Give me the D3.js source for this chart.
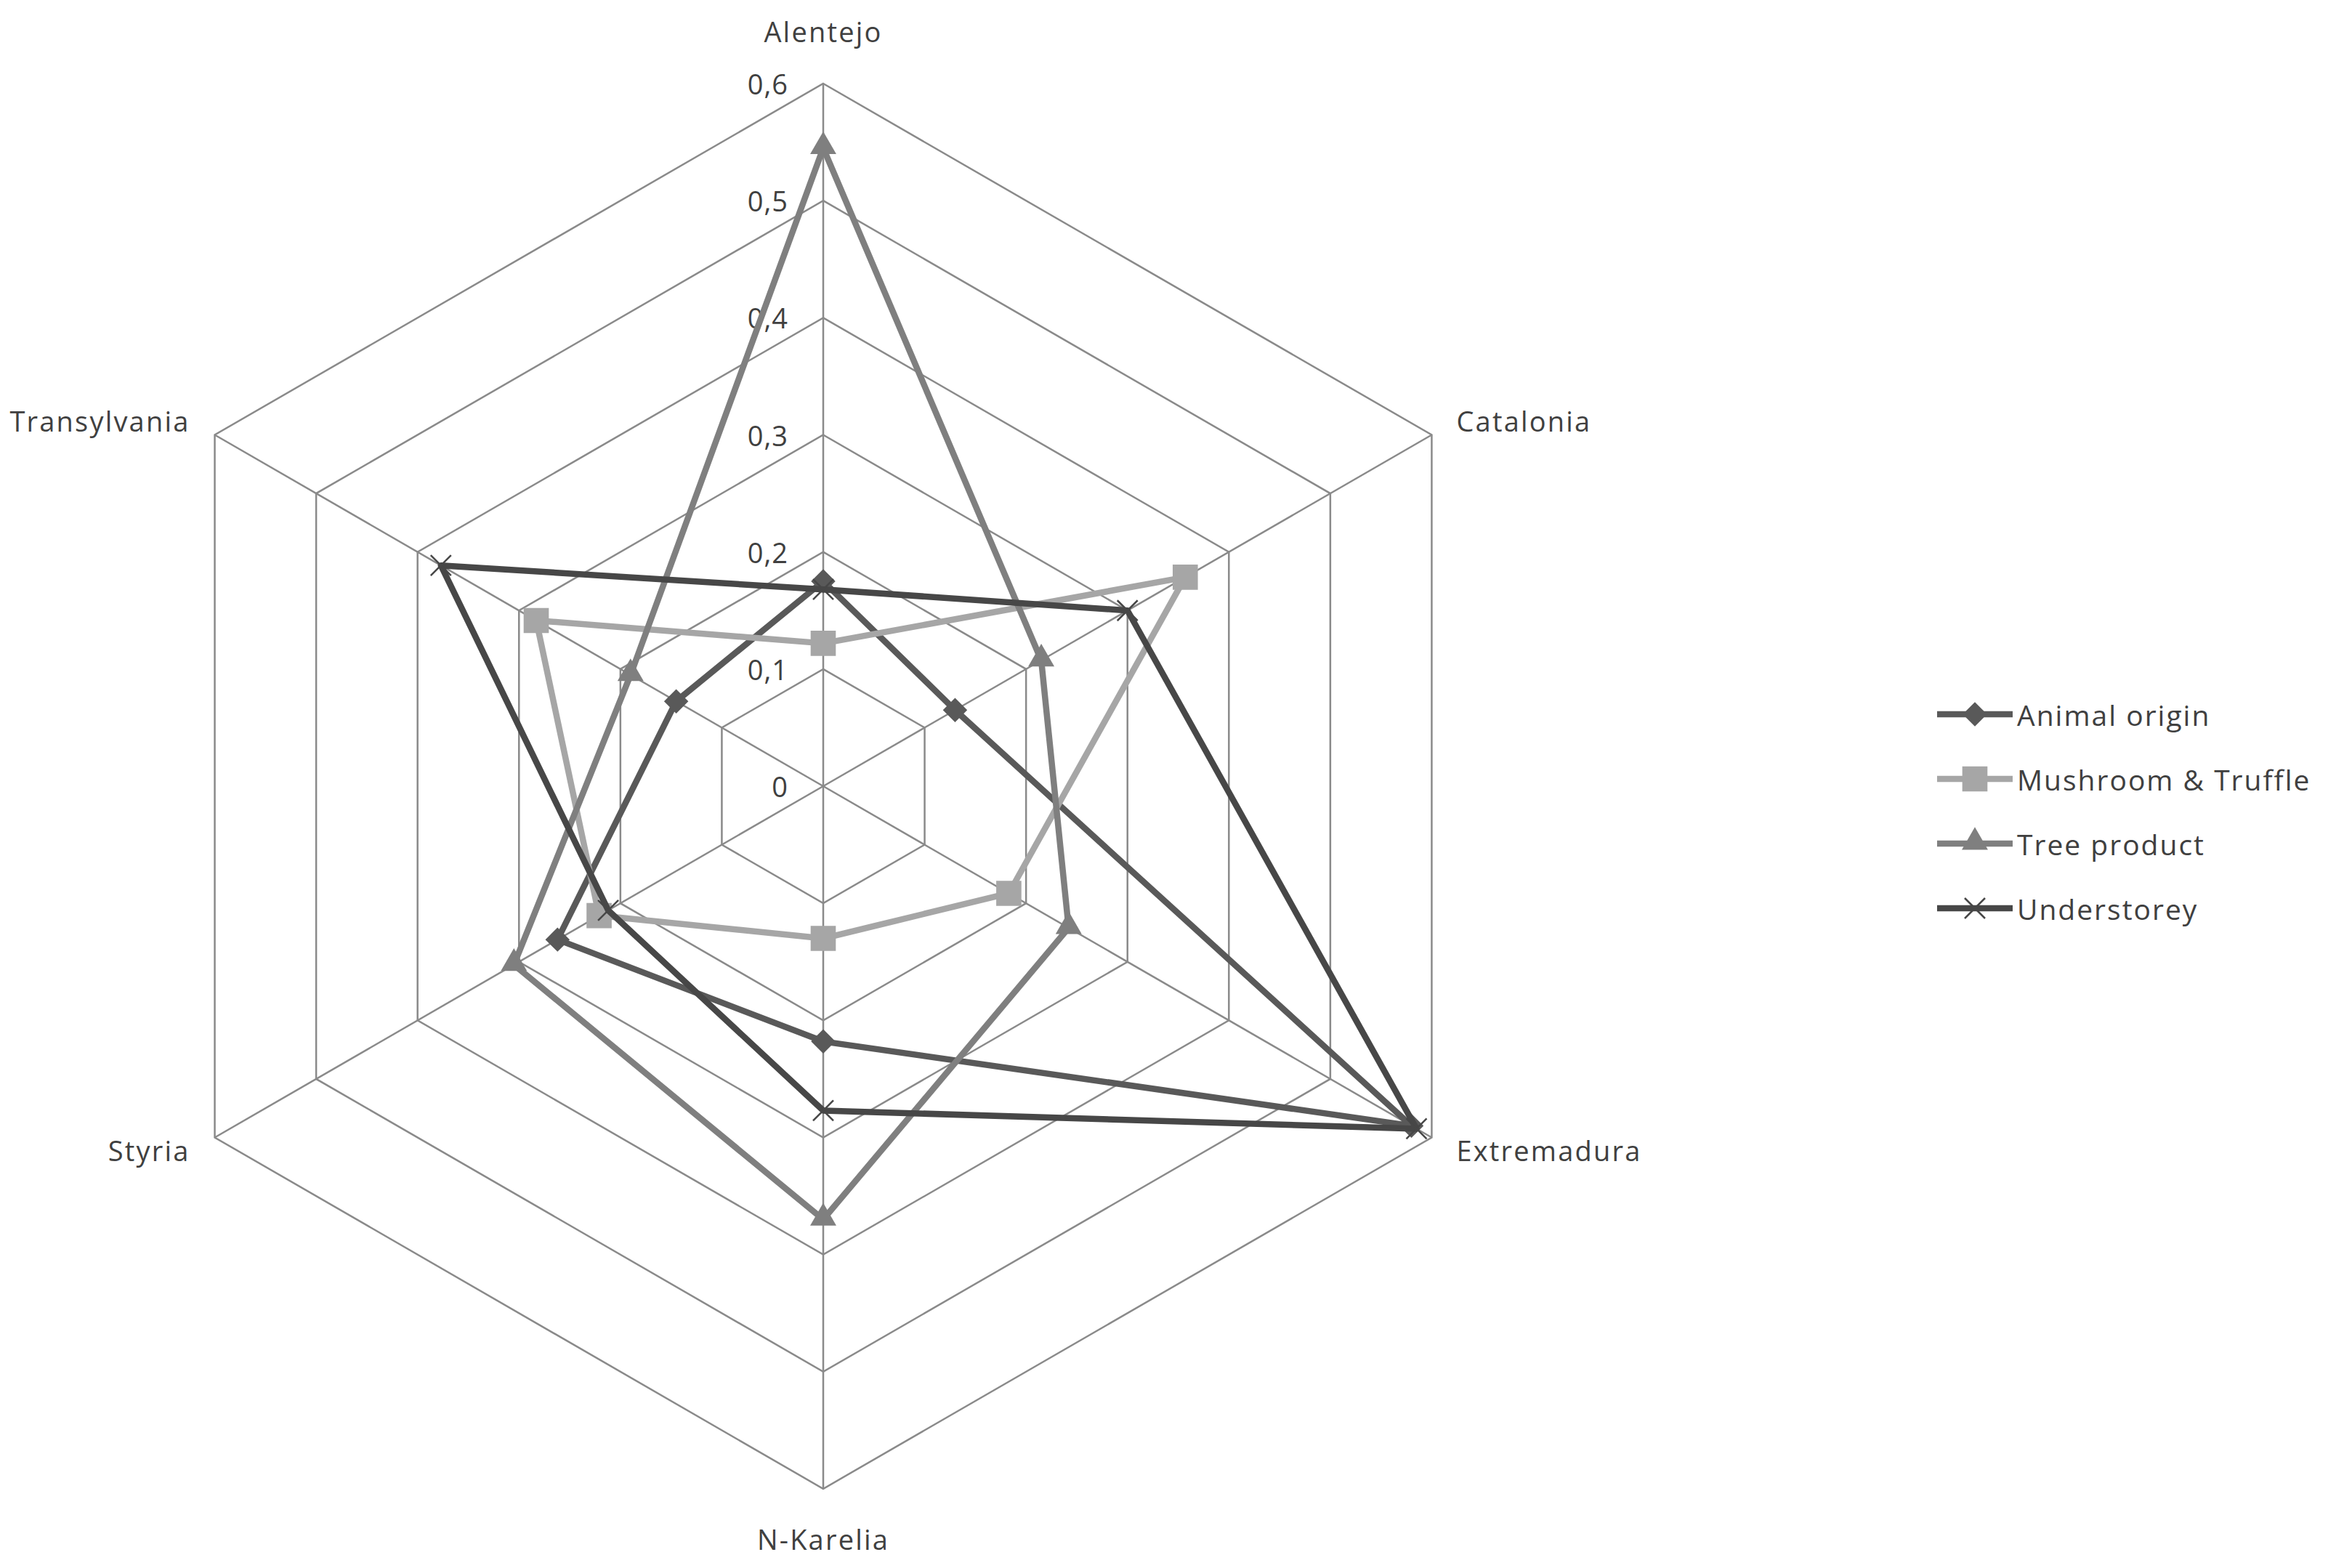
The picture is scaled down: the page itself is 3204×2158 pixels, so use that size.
<!DOCTYPE html>
<html>
<head>
<meta charset="utf-8">
<script src="https://cdn.jsdelivr.net/npm/d3@7"></script>
<style>
  body { margin: 0; background: #fff; }
  text { font-family: "Open Sans", sans-serif; fill: #404040; }
</style>
</head>
<body>
<svg id="radar"></svg>
<script>
// Regions around the radar, clockwise from the top
var regions = ["Alentejo", "Catalonia", "Extremadura", "N-Karelia", "Styria", "Transylvania"];

// Series values (same order as regions)
var animalOrigin = [0.175, 0.13, 0.58, 0.218, 0.262, 0.145];
var mushroomTruffle = [0.122, 0.357, 0.183, 0.13, 0.221, 0.283];
var treeProduct = [0.545, 0.215, 0.242, 0.37, 0.305, 0.19];
var understorey = [0.168, 0.30, 0.585, 0.277, 0.212, 0.377];

var seriesNames = ["Animal origin", "Mushroom & Truffle", "Tree product", "Understorey"];
var tickValues = [0, 0.1, 0.2, 0.3, 0.4, 0.5, 0.6];
var tickLabels = ["0", "0,1", "0,2", "0,3", "0,4", "0,5", "0,6"];

var width = 3204, height = 2158;
var cx = 1133, cy = 1082, radius = 967;

var svg = d3.select("#radar")
  .attr("width", width)
  .attr("height", height);

svg.append("rect").attr("width", width).attr("height", height).attr("fill", "#fff");

// scales
var r = d3.scaleLinear().domain([0, 0.6]).range([0, radius]);
var angle = d3.scaleLinear().domain([0, regions.length]).range([0, 2 * Math.PI]);

function pt(i, v) {
  var a = angle(i);
  return [cx + r(v) * Math.sin(a), cy - r(v) * Math.cos(a)];
}

var g = svg.append("g");

// hexagon grid rings
tickValues.filter(function(t) { return t > 0; }).forEach(function(t) {
  g.append("path")
    .attr("d", d3.line().curve(d3.curveLinearClosed)(regions.map(function(d, i) { return pt(i, t); })))
    .attr("fill", "none")
    .attr("stroke", "#8a8a8a")
    .attr("stroke-width", 2.5);
});

// spokes
regions.forEach(function(d, i) {
  var p = pt(i, 0.6);
  g.append("line")
    .attr("x1", cx).attr("y1", cy)
    .attr("x2", p[0]).attr("y2", p[1])
    .attr("stroke", "#8a8a8a")
    .attr("stroke-width", 2.5);
});

// tick labels along the top spoke
g.selectAll(".tick")
  .data(tickValues)
  .enter().append("text")
  .attr("x", cx - 48)
  .attr("y", function(d) { return cy - r(d); })
  .attr("text-anchor", "end")
  .attr("dominant-baseline", "central")
  .style("font-size", "38px")
  .style("letter-spacing", "1px")
  .text(function(d, i) { return tickLabels[i]; });

// region labels
g.selectAll(".region")
  .data(regions)
  .enter().append("text")
  .each(function(d, i) {
    var p = pt(i, 0.6);
    var s = Math.sin(angle(i)), c = Math.cos(angle(i));
    var anchor = s > 0.1 ? "start" : (s < -0.1 ? "end" : "middle");
    var dx = s > 0.1 ? 34 : (s < -0.1 ? -34 : 0);
    var dy;
    if (Math.abs(s) < 0.1) dy = c > 0 ? -72 : 69;
    else dy = c > 0 ? -20 : 17;
    d3.select(this)
      .attr("x", p[0] + dx)
      .attr("y", p[1] + dy)
      .attr("text-anchor", anchor)
      .attr("dominant-baseline", "central")
      .style("font-size", "38px")
      .style("letter-spacing", "2.2px")
      .text(d);
  });

// marker shapes
function xPath(s) {
  return "M" + (-s) + "," + (-s) + "L" + s + "," + s + "M" + (-s) + "," + s + "L" + s + "," + (-s);
}

var styles = [
  { color: "#595959", marker: "diamond" },
  { color: "#a6a6a6", marker: "square" },
  { color: "#7f7f7f", marker: "triangle" },
  { color: "#474747", marker: "x" }
];

function drawMarker(sel, type, color) {
  if (type === "diamond") {
    sel.append("path")
      .attr("d", d3.symbol().type(d3.symbolSquare).size(560)())
      .attr("transform", "rotate(45)")
      .attr("fill", color);
  } else if (type === "square") {
    sel.append("path")
      .attr("d", d3.symbol().type(d3.symbolSquare).size(1200)())
      .attr("fill", color);
  } else if (type === "triangle") {
    sel.append("path")
      .attr("d", d3.symbol().type(d3.symbolTriangle).size(560)())
      .attr("transform", "translate(0,-2)")
      .attr("fill", color);
  } else {
    sel.append("path")
      .attr("d", xPath(14))
      .attr("fill", "none")
      .attr("stroke", color)
      .attr("stroke-width", 2.5);
  }
}

var allSeries = [animalOrigin, mushroomTruffle, treeProduct, understorey];

allSeries.forEach(function(vals, k) {
  var pts = vals.map(function(v, i) { return pt(i, v); });
  g.append("path")
    .attr("d", d3.line().curve(d3.curveLinearClosed)(pts))
    .attr("fill", "none")
    .attr("stroke", styles[k].color)
    .attr("stroke-width", 8.5)
    .attr("stroke-linejoin", "round");
  pts.forEach(function(p) {
    var m = g.append("g").attr("transform", "translate(" + p[0] + "," + p[1] + ")");
    drawMarker(m, styles[k].marker, styles[k].color);
  });
});

// legend
var legend = svg.append("g").attr("transform", "translate(2666,983)");
seriesNames.forEach(function(name, k) {
  var row = legend.append("g").attr("transform", "translate(0," + (k * 89) + ")");
  row.append("line")
    .attr("x1", 0).attr("x2", 104)
    .attr("y1", 0).attr("y2", 0)
    .attr("stroke", styles[k].color)
    .attr("stroke-width", 8.5);
  var m = row.append("g").attr("transform", "translate(52,0)");
  drawMarker(m, styles[k].marker, styles[k].color);
  row.append("text")
    .attr("x", 110)
    .attr("y", 0)
    .attr("dominant-baseline", "central")
    .style("font-size", "39px")
    .style("letter-spacing", "2px")
    .text(name);
});
</script>
</body>
</html>
